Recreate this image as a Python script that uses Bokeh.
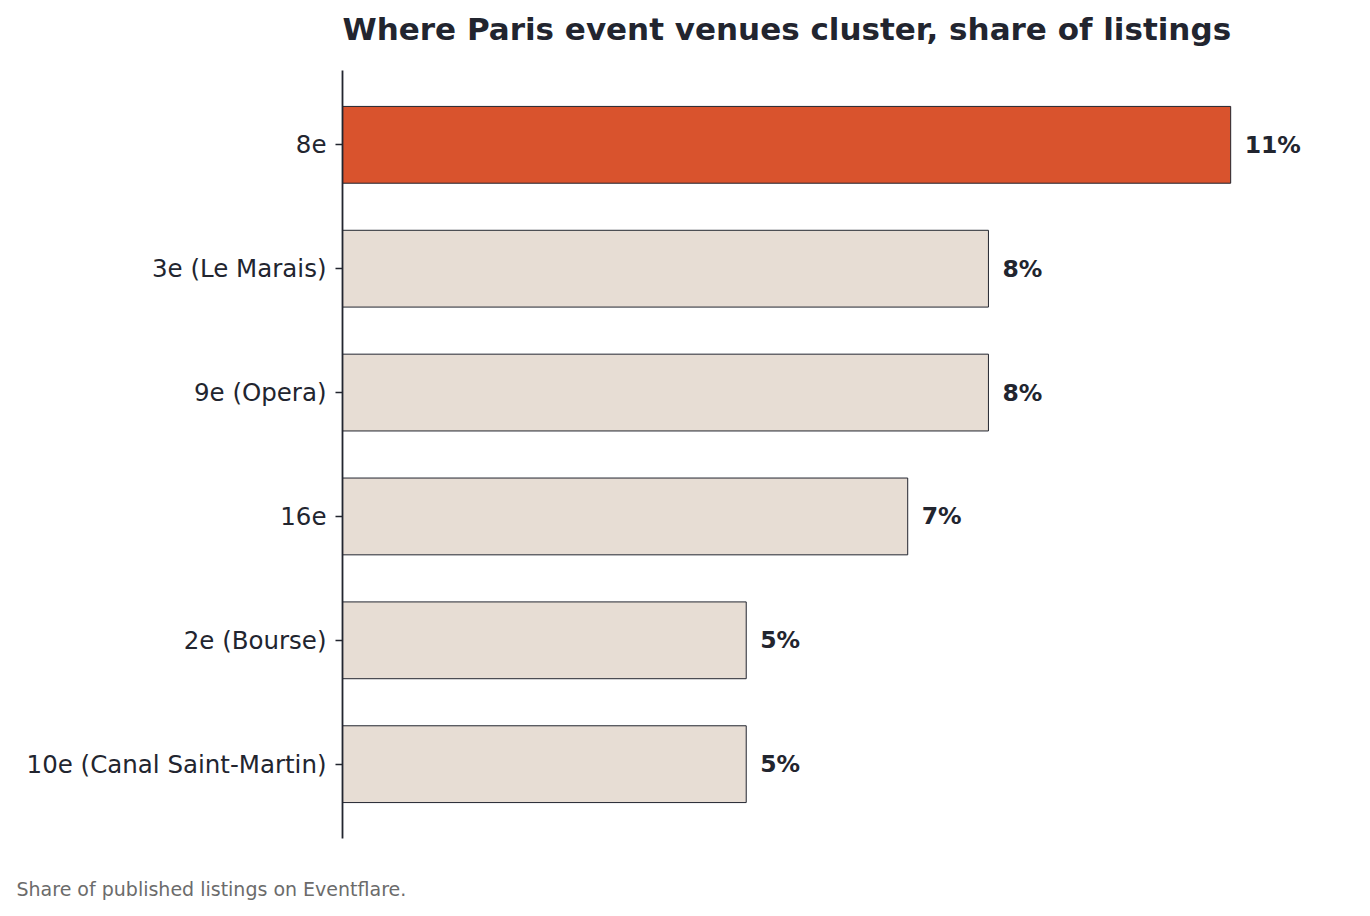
from bokeh.plotting import figure
from bokeh.models import ColumnDataSource, FactorRange, Range1d, Title, LabelSet
from bokeh.core.properties import value
from bokeh.embed import file_html
from bokeh.resources import INLINE

# ---- data ----
districts = ["8e", "3e (Le Marais)", "9e (Opera)", "16e", "2e (Bourse)", "10e (Canal Saint-Martin)"]
shares = [11, 8, 8, 7, 5, 5]
highlight = ["8e"]
title_text = "Where Paris event venues cluster, share of listings"
note_text = "Share of published listings on Eventflare."

HI = "#d9532d"
BASE = "#e7ddd4"
INK = "#22252f"

labels = [f"{v}%" for v in shares]
colors = [HI if d in highlight else BASE for d in districts]
src = ColumnDataSource(dict(d=districts, v=shares, lab=labels, c=colors))

factors = list(reversed(districts))
W, H = 1370, 916
LEFT = 342
p = figure(width=W, height=H, title=None,
           y_range=FactorRange(factors=factors, range_padding=0.2 / 6),
           x_range=Range1d(0, 12.1),
           output_backend="svg", toolbar_location=None,
           min_border_left=LEFT, min_border_right=51,
           min_border_top=70, min_border_bottom=78)
p.outline_line_color = None
p.grid.visible = False
p.xaxis.visible = False

p.hbar(y="d", right="v", left=0, height=0.62, source=src,
       fill_color="c", line_color=INK, line_width=1)

ls = LabelSet(x="v", y="d", text="lab", source=src, x_offset=14,
              text_baseline="middle", text_align="left",
              text_font=value("DejaVu Sans"), text_font_style="bold",
              text_font_size="23.5px", text_color=INK)
p.add_layout(ls)

ya = p.yaxis[0]
ya.axis_line_color = INK
ya.axis_line_width = 1.8
ya.major_tick_line_color = INK
ya.major_tick_line_width = 1.5
ya.major_tick_out = 7
ya.major_tick_in = 0
ya.minor_tick_line_color = None
ya.major_label_text_font = "DejaVu Sans"
ya.major_label_text_font_size = "24.5px"
ya.major_label_text_color = INK
ya.major_label_standoff = 9

# spacing panels (first added sits nearest the frame)
p.add_layout(Title(text=" ", text_font_size="1px", text_color="#ffffff", standoff=19), "above")
p.add_layout(Title(text=title_text, align="left", vertical_align="top", standoff=0,
                   text_font="DejaVu Sans", text_font_style="bold",
                   text_font_size="31px", text_color=INK), "above")

p.add_layout(Title(text=" ", text_font_size="1px", text_color="#ffffff", standoff=36), "below")
p.add_layout(Title(text=note_text, align="left", vertical_align="top", standoff=0,
                   offset=16 - LEFT, text_font="DejaVu Sans", text_font_style="normal",
                   text_font_size="19px", text_color="#6b6b6b"), "below")

open("out.html", "w").write(file_html(p, INLINE))
